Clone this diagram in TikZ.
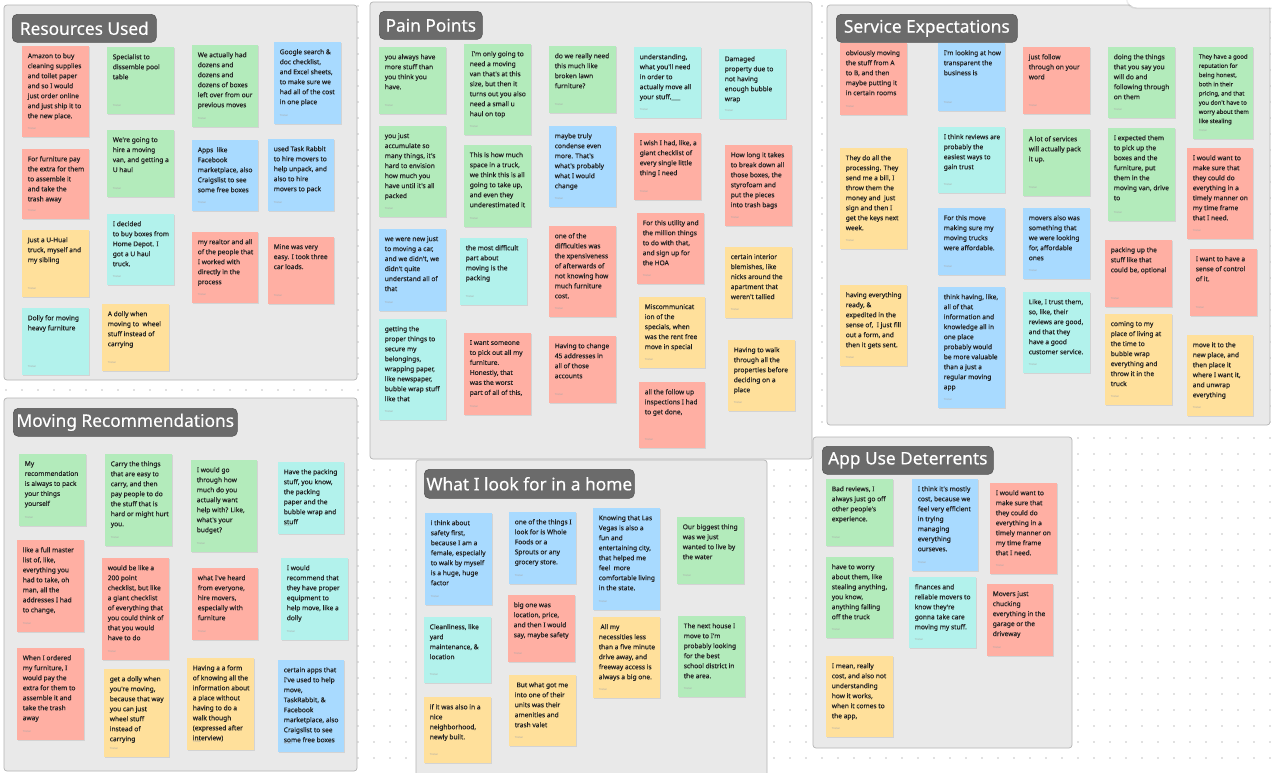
\documentclass[tikz,border=0pt]{standalone}
\usepackage{fontspec}
\setmainfont{Noto Sans}
\newfontfamily\notefam[FakeBold=0.25]{Noto Sans}
\newfontfamily\titlefam[FakeBold=0.35]{Noto Sans}
\definecolor{nred}{HTML}{FFAFA3}
\definecolor{ngreen}{HTML}{B3EBBB}
\definecolor{nblue}{HTML}{A8DAFF}
\definecolor{ncyan}{HTML}{B2F2EC}
\definecolor{nyellow}{HTML}{FFE09B}
\definecolor{notetext}{HTML}{222222}
\definecolor{framefill}{HTML}{E9E9E9}
\definecolor{frameline}{HTML}{B4B4B4}
\definecolor{titlefill}{HTML}{6B6B6B}
\definecolor{titleline}{HTML}{555555}
\definecolor{dotcol}{HTML}{C4C4C4}
\newcommand\notefont{\notefam\fontsize{6.6}{10}\selectfont}
\tikzset{
  stickytext/.style={anchor=north west, inner sep=0pt, align=left, font=\notefont, text=notetext},
  stickyfoot/.style={anchor=west, inner sep=0pt, font=\fontsize{2.6}{3}\selectfont, text=black!35},
  boardframe/.style={fill=framefill, draw=frameline, line width=0.7pt, rounded corners=3pt},
  titlebox/.style={fill=titlefill, draw=titleline, line width=0.6pt, rounded corners=5pt, text=white,
    font=\titlefam\fontsize{17.3}{20}\selectfont, inner sep=0pt, anchor=north west},
}
% name, x, y, w, h, colour, text
\newcommand\sticky[7]{%
  \fill[black,opacity=0.09] ({#2+0.6},{#3+1.3}) rectangle ++(#4,#5);
  \fill[#6] (#2,#3) rectangle ++(#4,#5);
  \node[stickytext] (#1) at ({#2+5.6},{#3+7}) {#7};
  \node[stickyfoot] (#1-f) at ({#2+5.6},{#3+#5-8}) {Tristan};
}
\begin{document}
\begin{tikzpicture}[x=1pt,y=-1pt]
\useasboundingbox (0,0) rectangle (1272,772);
\clip (0,0) rectangle (1272,772);
\fill[white] (0,0) rectangle (1272,772);
\foreach \i in {0,...,79}{\foreach \j in {0,...,48}{\fill[dotcol] ({\i*16+6},{\j*16+6}) circle (0.8pt);}}

% ---------- frames ----------
\filldraw[boardframe] (4,5) rectangle (357,380);
\filldraw[boardframe] (370,2) rectangle (812,459);
\filldraw[boardframe] (827,5) rectangle (1270,425);
\filldraw[boardframe] (4,398) rectangle (357,771);
\filldraw[boardframe] (416,460) rectangle (767,790);
\filldraw[boardframe] (813,437) rectangle (1072,748);

% top right panel
\fill[black,opacity=0.07] (1126,-20) [rounded corners=10pt] rectangle (1292,9);
\fill[white,rounded corners=10pt] (1127,-20) rectangle (1292,7.5);

% ---------- titles ----------
\node[titlebox, minimum width=144pt, minimum height=28pt] (t1) at (12,14) {Resources Used};
\node[titlebox, minimum width=103pt, minimum height=28pt] (t2) at (379,11) {Pain Points};
\node[titlebox, minimum width=181pt, minimum height=28pt] (t3) at (836,14) {Service Expectations};
\node[titlebox, minimum width=224pt, minimum height=28pt] (t4) at (13,408) {Moving Recommendations};
\node[titlebox, minimum width=210pt, minimum height=29pt] (t5) at (424,469) {What I look for in a home};
\node[titlebox, minimum width=171pt, minimum height=28pt] (t6) at (822,446) {App Use Deterrents};

% ---------- Resources Used ----------
\sticky{r1}{22}{46}{67}{91}{nred}{Amazon to buy\\cleaning supplies\\and toilet paper\\and so I would\\just order online\\and just ship it to\\the new place.}
\sticky{r2}{22}{149}{67}{70}{nred}{For furniture pay\\the extra for them\\to assemble it\\and take the\\trash away}
\sticky{r3}{22}{230}{67}{67}{nyellow}{Just a U-Hual\\truck, myself and\\my sibling}
\sticky{r4}{22}{308}{67}{67}{ncyan}{Dolly for moving\\heavy furniture}
\sticky{r5}{107}{47}{67}{67}{ngreen}{Specialist to\\dissemble pool\\table}
\sticky{r6}{107}{130}{67}{67}{ngreen}{We're going to\\hire a moving\\van, and getting a\\U haul}
\sticky{r7}{107}{214}{67}{71}{ncyan}{I decided\\to buy boxes from\\Home Depot. I\\got a U haul\\truck.}
\sticky{r8}{102}{304}{67}{67}{nyellow}{A dolly when\\moving to\ \ wheel\\stuff instead of\\carrying}
\sticky{r9}{192}{45}{66}{82}{ngreen}{We actually had\\dozens and\\dozens and\\dozens of boxes\\left over from our\\previous moves}
\sticky{r10}{192}{140}{66}{71}{nblue}{Apps\ \ like\\Facebook\\marketplace, also\\Craigslist to see\\some free boxes}
\sticky{r11}{192}{232}{66}{71}{nred}{my realtor and all\\of the people that\\I worked with\\directly in the\\process}
\sticky{r12}{274}{42}{67}{82}{nblue}{Google search \&\\doc checklist,\\and Excel sheets,\\to make sure we\\had all of the cost\\in one place}
\sticky{r13}{268}{139}{66}{72}{nblue}{used Task Rabbit\\to hire movers to\\help unpack, and\\also to hire\\movers to pack}
\sticky{r14}{268}{237}{66}{67}{nred}{Mine was very\\easy. I took three\\car loads.}

% ---------- Pain Points ----------
\sticky{p1}{379}{47}{67}{67}{ngreen}{you always have\\more stuff than\\you think you\\have.}
\sticky{p2}{379}{126}{67}{91}{ngreen}{you just\\accumulate so\\many things, it's\\hard to envision\\how much you\\have until it's all\\packed}
\sticky{p3}{379}{229}{67}{82}{nblue}{we were new just\\to moving a car,\\and we didn't, we\\didn't quite\\understand all of\\that}
\sticky{p4}{379}{319}{67}{101}{ncyan}{getting the\\proper things to\\secure my\\belongings,\\wrapping paper,\\like newspaper,\\bubble wrap stuff\\like that}
\sticky{p5}{464}{44}{67}{91}{ngreen}{\ I'm only going to\\need a moving\\van that's at this\\size, but then it\\turns out you also\\need a small u\\haul on top}
\sticky{p6}{464}{145}{67}{82}{ngreen}{This is how much\\space in a truck,\\we think this is all\\going to take up,\\and even they\\underestimated it}
\sticky{p7}{460}{238}{67}{67}{ncyan}{the most difficult\\part about\\moving is the\\packing}
\sticky{p8}{464}{333}{67}{82}{nred}{I want someone\\to pick out all my\\furniture.\\Honestly, that\\was the worst\\part of all of this,}
\sticky{p9}{549}{46}{67}{67}{ngreen}{do we really need\\this much like\\broken lawn\\furniture?}
\sticky{p10}{549}{126}{67}{81}{nblue}{maybe truly\\condense even\\more. That's\\what's probably\\what I would\\change}
\sticky{p11}{549}{226}{67}{91}{nred}{one of the\\difficulties was\\the xpensiveness\\of afterwards of\\not knowing how\\much furniture\\cost.}
\sticky{p12}{549}{336}{67}{67}{nred}{Having to change\\45 addresses in\\all of those\\accounts}
\sticky{p13}{634}{47}{67}{71}{ncyan}{understanding,\\what you'll need\\in order to\\actually move all\\your stuff.\_\_\_}
\sticky{p14}{634}{133}{67}{67}{nred}{I wish I had, like, a\\giant checklist of\\every single little\\thing I need}
\sticky{p15}{637}{213}{67}{71}{nred}{For this utility and\\the million things\\to do with that,\\and sign up for\\the HOA}
\sticky{p16}{639}{297}{66}{71}{nyellow}{Miscommunicat\\ion of the\\specials, when\\was the rent free\\move in special}
\sticky{p17}{639}{382}{66}{66}{nred}{all the follow up\\inspections I had\\to get done,}
\sticky{p18}{719}{49}{67}{70}{ncyan}{Damaged\\property due to\\not having\\enough bubble\\wrap}
\sticky{p19}{725}{145}{67}{81}{nred}{How long it takes\\to break down all\\those boxes, the\\styrofoam and\\put the pieces\\into trash bags}
\sticky{p20}{725}{247}{67}{71}{nyellow}{certain interior\\blemishes, like\\nicks around the\\apartment that\\weren't tallied}
\sticky{p21}{728}{340}{67}{71}{nyellow}{Having to walk\\through all the\\properties before\\deciding on a\\place}

% ---------- Service Expectations ----------
\sticky{s1}{840}{43}{67}{72}{nred}{obviously moving\\the stuff from A\\to B, and then\\maybe putting it\\in certain rooms}
\sticky{s2}{840}{148}{67}{101}{nyellow}{They do all the\\processing. They\\send me a bill, I\\throw them the\\money and\ \ just\\sign and then I\\get the keys next\\week.}
\sticky{s3}{840}{285}{67}{81}{nyellow}{having everything\\ready, \&\\expedited in the\\sense of,\ \ I just fill\\out a form, and\\then it gets sent.}
\sticky{s4}{938}{43}{67}{68}{nblue}{I'm looking at how\\transparent the\\business is}
\sticky{s5}{938}{127}{67}{66}{ncyan}{I think reviews are\\probably the\\easiest ways to\\gain trust}
\sticky{s6}{938}{208}{67}{67}{nblue}{For this move\\making sure my\\moving trucks\\were affordable.}
\sticky{s7}{938}{287}{67}{121}{nblue}{think having, like,\\all of that\\information and\\knowledge all in\\one place\\probably would\\be more valuable\\than a just a\\regular moving\\app}
\sticky{s8}{1023}{47}{67}{67}{nred}{just follow\\through on your\\word}
\sticky{s9}{1023}{129}{67}{67}{ngreen}{A lot of services\\will actually pack\\it up.}
\sticky{s10}{1023}{208}{67}{71}{nblue}{movers also was\\something that\\we were looking\\for, affordable\\ones}
\sticky{s11}{1023}{292}{67}{81}{ncyan}{Like, I trust them,\\so, like, their\\reviews are good,\\and that they\\have a good\\customer service.}
\sticky{s12}{1108}{47}{67}{71}{ngreen}{doing the things\\that you say you\\will do and\\following through\\on them}
\sticky{s13}{1108}{128}{67}{93}{ngreen}{I expected them\\to pick up the\\boxes and the\\furniture, put\\them in the\\moving van, drive\\to}
\sticky{s14}{1105}{240}{67}{67}{nred}{packing up the\\stuff like that\\could be, optional}
\sticky{s15}{1105}{314}{67}{91}{nyellow}{coming to my\\place of living at\\the time to\\bubble wrap\\everything and\\throw it in the\\truck}
\begingroup
\renewcommand\notefont{\notefam\fontsize{5.9}{9.2}\selectfont}
\sticky{s16}{1193}{47}{60}{92}{ngreen}{They have a good\\reputation for\\being honest,\\both in their\\pricing, and that\\you don't have to\\worry about them\\like stealing}
\endgroup
\sticky{s17}{1187}{148}{66}{91}{nred}{I would want to\\make sure that\\they could do\\everything in a\\timely manner on\\my time frame\\that I need.}
\sticky{s18}{1190}{249}{67}{67}{nred}{I want to have a\\sense of control\\of it.}
\sticky{s19}{1187}{335}{66}{81}{nyellow}{move it to the\\new place, and\\then place it\\where I want it,\\and unwrap\\everything}

% ---------- Moving Recommendations ----------
\sticky{m1}{19}{454}{67}{72}{ngreen}{My\\recommendation\\is always to pack\\your things\\yourself}
\sticky{m2}{17}{540}{67}{92}{nred}{like a full master\\list of, like,\\everything you\\had to take, oh\\man, all the\\addresses I had\\to change,}
\sticky{m3}{17}{648}{67}{92}{nred}{When I ordered\\my furniture, I\\would pay the\\extra for them to\\assemble it and\\take the trash\\away}
\sticky{m4}{105}{454}{67}{92}{ngreen}{Carry the things\\that are easy to\\carry, and then\\pay people to do\\the stuff that is\\hard or might hurt\\you.}
\sticky{m5}{102}{558}{67}{102}{nred}{would be like a\\200 point\\checklist, but like\\a giant checklist\\of everything that\\you could think of\\that you would\\have to do}
\sticky{m6}{104}{669}{65}{88}{nyellow}{get a dolly when\\you're moving,\\because that way\\you can just\\wheel stuff\\instead of\\carrying}
\sticky{m7}{191}{460}{66}{92}{ngreen}{I would go\\through how\\much do you\\actually want\\help with? Like,\\what's your\\budget?}
\sticky{m8}{192}{568}{66}{72}{nred}{what I've heard\\from everyone,\\hire movers,\\especially with\\furniture}
\sticky{m9}{187}{658}{67}{92}{nyellow}{Having a a form\\of knowing all the\\information about\\a place without\\having to do a\\walk though\\(expressed after\\interview)}
\sticky{m10}{278}{462}{66}{72}{ncyan}{Have the packing\\stuff, you know,\\the packing\\paper and the\\bubble wrap and\\stuff}
\sticky{m11}{281}{558}{67}{82}{ncyan}{I would\\recommend that\\they have proper\\equipment to\\help move, like a\\dolly}
\sticky{m12}{278}{660}{66}{92}{nblue}{certain apps that\\I've used to help\\move,\\TaskRabbit, \&\\Facebook\\marketplace, also\\Craigslist to see\\some free boxes}

% ---------- What I look for in a home ----------
\sticky{w1}{425}{513}{67}{92}{nblue}{i think about\\safety first,\\because I am a\\female, especially\\to walk by myself\\is a huge, huge\\factor}
\sticky{w2}{424}{617}{67}{66}{ncyan}{Cleanliness, like\\yard\\maintenance, \&\\location}
\sticky{w3}{424}{697}{67}{66}{nyellow}{if it was also in a\\nice\\neighborhood,\\newly built.}
\sticky{w4}{509}{512}{67}{72}{nblue}{one of the things I\\look for is Whole\\Foods or a\\Sprouts or any\\grocery store.}
\sticky{w5}{508}{595}{67}{67}{nred}{big one was\\location, price,\\and then I would\\say, maybe safety}
\sticky{w6}{509}{675}{67}{71}{nyellow}{\ But what got me\\into one of their\\units was their\\amenities and\\trash valet}
\sticky{w7}{593}{508}{67}{102}{nblue}{Knowing that Las\\Vegas is also a\\fun and\\entertaining city,\\that helped me\\feel\ \ more\\comfortable living\\in the state.}
\sticky{w8}{593}{617}{67}{81}{nyellow}{\ All my\\necessities less\\than a five minute\\drive away, and\\freeway access is\\always a big one.}
\sticky{w9}{677}{517}{67}{67}{ngreen}{Our biggest thing\\was we just\\wanted to live by\\the water}
\sticky{w10}{678}{616}{67}{81}{ngreen}{The next house I\\move to I'm\\probably looking\\for the best\\school district in\\the area.}

% ---------- App Use Deterrents ----------
\sticky{a1}{826}{479}{67}{67}{ngreen}{Bad reviews, I\\always just go off\\other people's\\experience.}
\sticky{a2}{826}{557}{67}{81}{ngreen}{have to worry\\about them, like\\stealing anything,\\you know,\\anything falling\\off the truck}
\sticky{a3}{826}{656}{67}{81}{nyellow}{I mean, really\\cost, and also not\\understanding\\how it works,\\when it comes to\\the app,}
\sticky{a4}{912}{479}{66}{92}{nblue}{I think it's mostly\\cost, because we\\feel very efficient\\in trying\\managing\\everything\\ourseves.}
\sticky{a5}{909}{577}{67}{71}{ncyan}{finances and\\reliable movers to\\know they're\\gonna take care\\moving my stuff.}
\sticky{a6}{990}{483}{67}{91}{nred}{I would want to\\make sure that\\they could do\\everything in a\\timely manner on\\my time frame\\that I need.}
\sticky{a7}{987}{584}{66}{72}{nred}{Movers just\\chucking\\everything in the\\garage or the\\driveway}
\end{tikzpicture}
\end{document}
